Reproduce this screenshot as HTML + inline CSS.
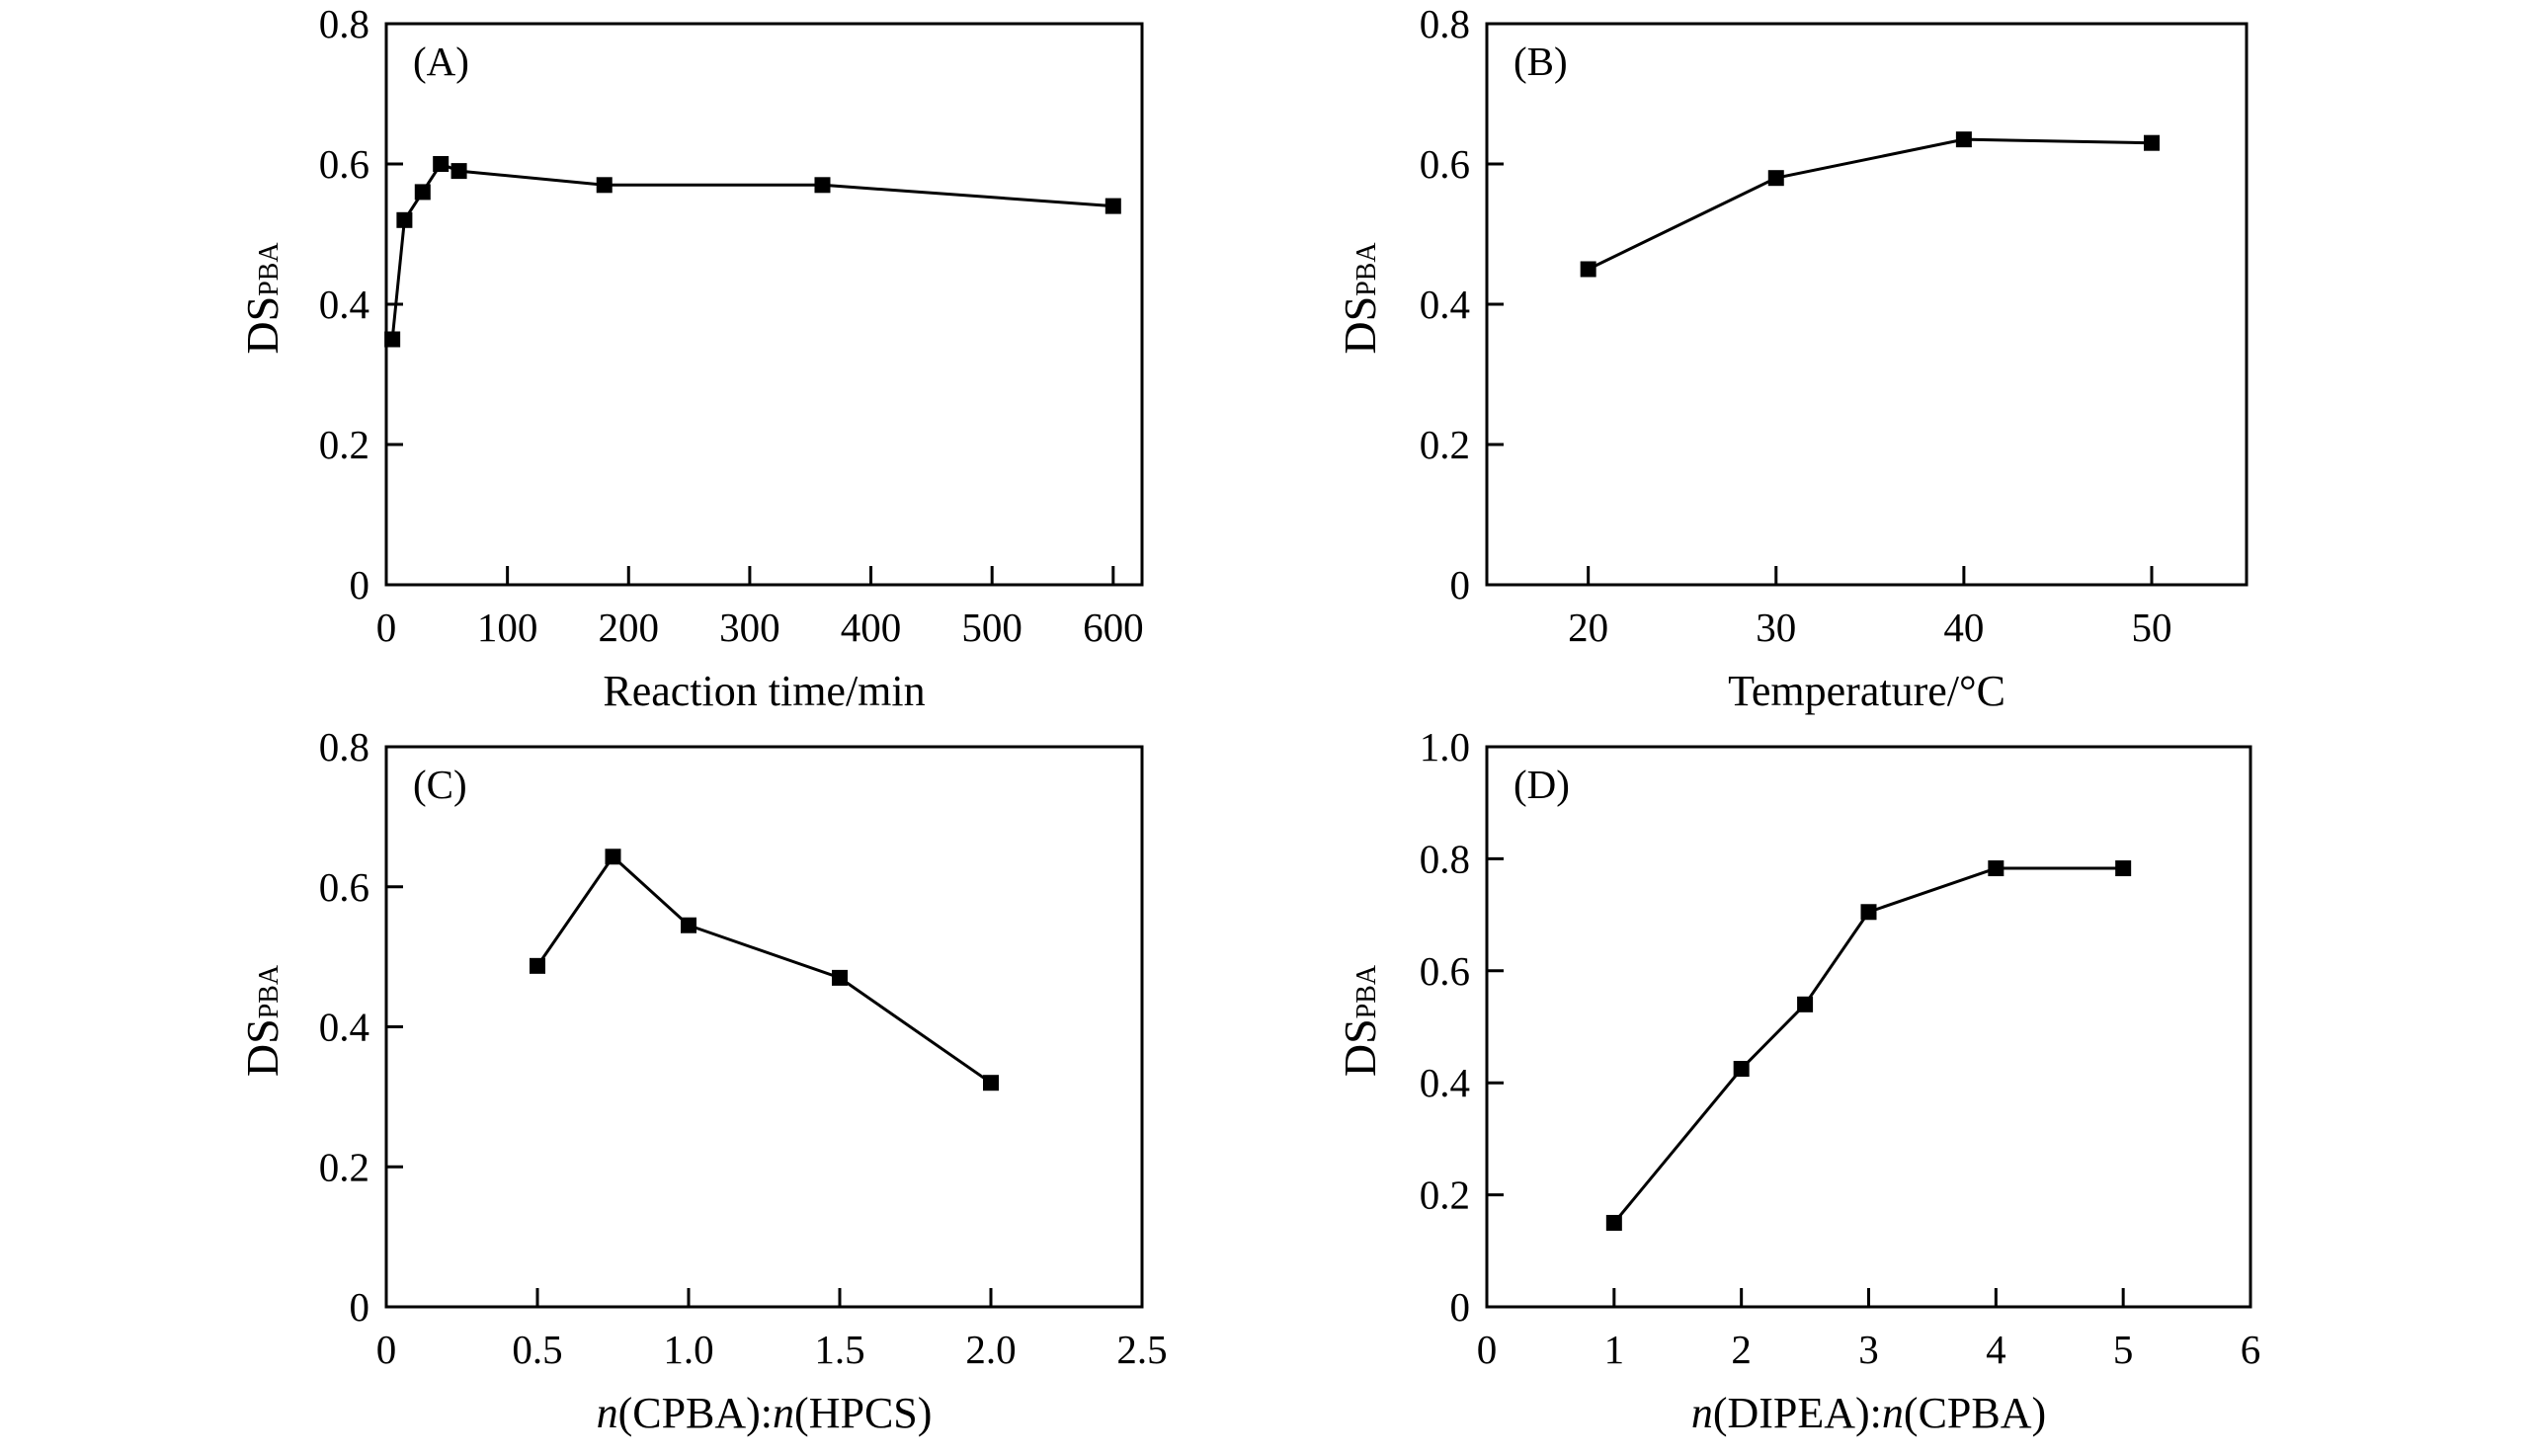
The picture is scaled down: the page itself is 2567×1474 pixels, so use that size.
<!DOCTYPE html>
<html><head><meta charset="utf-8"><style>
html,body{margin:0;padding:0;background:#fff;}
svg{display:block;}
text{font-family:"Liberation Serif",serif;fill:#000;}
</style></head><body>
<svg id="fig" width="2567" height="1474" viewBox="0 0 2567 1474" xmlns="http://www.w3.org/2000/svg"></svg>
<script>
// Panel A data
const aX = [5, 15, 30, 45, 60, 180, 360, 600];
const aY = [0.35, 0.52, 0.56, 0.60, 0.59, 0.57, 0.57, 0.54];
const aXTicks = [0, 100, 200, 300, 400, 500, 600];
const aXTickLabels = ["0", "100", "200", "300", "400", "500", "600"];
// Panel B data
const bX = [20, 30, 40, 50];
const bY = [0.45, 0.58, 0.635, 0.63];
const bXTicks = [20, 30, 40, 50];
const bXTickLabels = ["20", "30", "40", "50"];
// Panel C data
const cX = [0.5, 0.75, 1.0, 1.5, 2.0];
const cY = [0.487, 0.643, 0.545, 0.47, 0.32];
const cXTicks = [0, 0.5, 1.0, 1.5, 2.0, 2.5];
const cXTickLabels = ["0", "0.5", "1.0", "1.5", "2.0", "2.5"];
// Panel D data
const dX = [1, 2, 2.5, 3, 4, 5];
const dY = [0.15, 0.425, 0.54, 0.705, 0.783, 0.783];
const dXTicks = [0, 1, 2, 3, 4, 5, 6];
const dXTickLabels = ["0", "1", "2", "3", "4", "5", "6"];
const yTicks08 = [0, 0.2, 0.4, 0.6, 0.8];
const yTickLabels08 = ["0", "0.2", "0.4", "0.6", "0.8"];
const yTicks10 = [0, 0.2, 0.4, 0.6, 0.8, 1.0];
const yTickLabels10 = ["0", "0.2", "0.4", "0.6", "0.8", "1.0"];

const NS = "http://www.w3.org/2000/svg";
const svg = document.getElementById('fig');
function mk(tag, attrs, parent) {
  const e = document.createElementNS(NS, tag);
  for (const k in attrs) e.setAttribute(k, attrs[k]);
  (parent || svg).appendChild(e);
  return e;
}

function panel(cfg) {
  const g = mk('g', {});
  
  
  const L = cfg.left, R = cfg.right, T = cfg.top, B = cfg.bottom;
  const sx = v => L + (v - cfg.xmin) / (cfg.xmax - cfg.xmin) * (R - L);
  const sy = v => B - (v - cfg.ymin) / (cfg.ymax - cfg.ymin) * (B - T);
  const frame = mk('rect', {x: L, y: T, width: R - L, height: B - T, fill: 'none', stroke: '#000', 'stroke-width': 3}, g);
  
  
  cfg.xTicks.forEach((v, i) => {
    const x = sx(v);
    if (x > L + 2 && x < R - 2) {
      const t = mk('line', {x1: x, x2: x, y1: B, y2: B - 19, stroke: '#000', 'stroke-width': 3}, g);
      
      
    }
    const tl = mk('text', {x: x, y: B + 57, 'font-size': 41, 'text-anchor': 'middle'}, g);
    tl.textContent = cfg.xLabels[i];
    
    
  });
  cfg.yTicks.forEach((v, i) => {
    const y = sy(v);
    if (y > T + 2 && y < B - 2) {
      const t = mk('line', {x1: L, x2: L + 17, y1: y, y2: y, stroke: '#000', 'stroke-width': 3}, g);
      
      
    }
    const tl = mk('text', {x: L - 17, y: y + 14, 'font-size': 41, 'text-anchor': 'end'}, g);
    tl.textContent = cfg.yLabels[i];
    
    
  });
  const pts = cfg.xs.map((v, i) => sx(v) + ',' + sy(cfg.ys[i])).join(' ');
  const pl = mk('polyline', {points: pts, fill: 'none', stroke: '#000', 'stroke-width': 3}, g);
  
  
  cfg.xs.forEach((v, i) => {
    const m = mk('rect', {x: sx(v) - 8, y: sy(cfg.ys[i]) - 8, width: 16, height: 16, fill: '#000'}, g);
    
    
  });
  const pl2 = mk('text', {x: L + 27, y: T + 52, 'font-size': 41}, g);
  pl2.textContent = '(' + cfg.id.toUpperCase() + ')';
  
  
  const xt = mk('text', {x: (L + R) / 2, y: B + 122, 'font-size': 44, 'text-anchor': 'middle'}, g);
  xt.innerHTML = cfg.xTitle;
  
  
  const cy = (T + B) / 2 - 6;
  const yt = mk('text', {x: 0, y: 0, 'font-size': 46, 'text-anchor': 'middle', transform: 'translate(' + (cfg.yTitleX) + ',' + cy + ') rotate(-90)'}, g);
  yt.innerHTML = '<tspan>DS</tspan><tspan font-size="28">PBA</tspan>';
  
  
}

panel({id: 'a', left: 391, right: 1156, top: 24, bottom: 592, xmin: 0, xmax: 623.8, ymin: 0, ymax: 0.8,
  xs: aX, ys: aY, xTicks: aXTicks, xLabels: aXTickLabels, yTicks: yTicks08, yLabels: yTickLabels08,
  xTitle: 'Reaction time/min', yTitleX: 281});
panel({id: 'b', left: 1505, right: 2274, top: 24, bottom: 592, xmin: 14.6, xmax: 55.05, ymin: 0, ymax: 0.8,
  xs: bX, ys: bY, xTicks: bXTicks, xLabels: bXTickLabels, yTicks: yTicks08, yLabels: yTickLabels08,
  xTitle: 'Temperature/°C', yTitleX: 1392});
panel({id: 'c', left: 391, right: 1156, top: 756, bottom: 1323, xmin: 0, xmax: 2.5, ymin: 0, ymax: 0.8,
  xs: cX, ys: cY, xTicks: cXTicks, xLabels: cXTickLabels, yTicks: yTicks08, yLabels: yTickLabels08,
  xTitle: '<tspan font-style="italic">n</tspan>(CPBA):<tspan font-style="italic">n</tspan>(HPCS)', yTitleX: 281});
panel({id: 'd', left: 1505, right: 2278, top: 756, bottom: 1323, xmin: 0, xmax: 6, ymin: 0, ymax: 1.0,
  xs: dX, ys: dY, xTicks: dXTicks, xLabels: dXTickLabels, yTicks: yTicks10, yLabels: yTickLabels10,
  xTitle: '<tspan font-style="italic">n</tspan>(DIPEA):<tspan font-style="italic">n</tspan>(CPBA)', yTitleX: 1392});
</script>
</body></html>
